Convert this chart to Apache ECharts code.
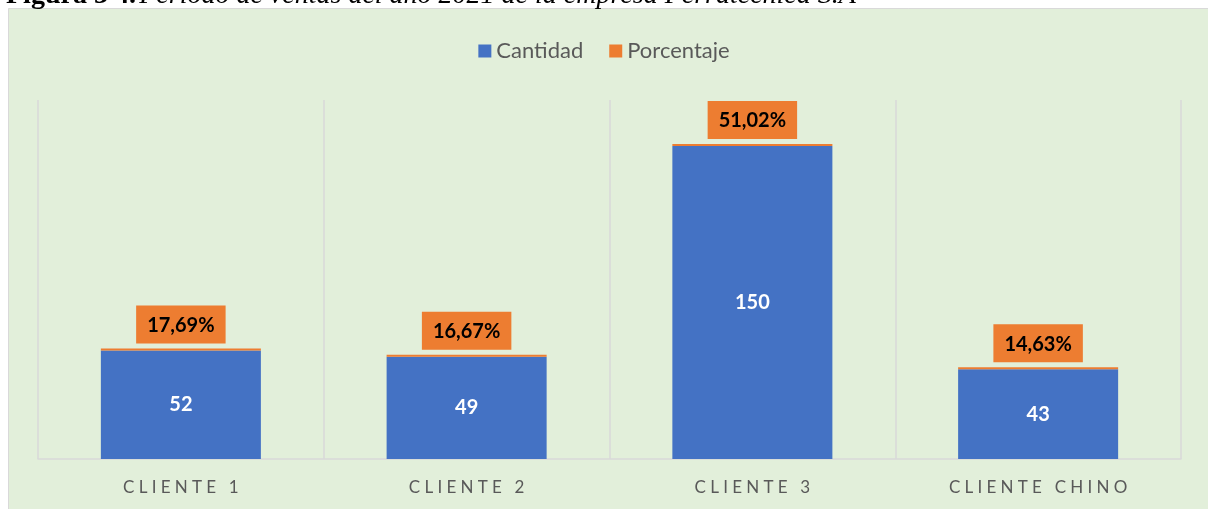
<!DOCTYPE html>
<html>
<head>
<meta charset="utf-8">
<script src="https://cdn.jsdelivr.net/npm/echarts@6/dist/echarts.min.js"></script>
<style>
  html, body { margin: 0; padding: 0; background: #ffffff; }
  #chart { width: 1208px; height: 509px; }
</style>
</head>
<body>
<div id="chart"></div>
<script>
// Sales per client, 2021
const categories = ['CLIENTE 1', 'CLIENTE 2', 'CLIENTE 3', 'CLIENTE CHINO'];
const cantidad = [52, 49, 150, 43];
const porcentaje = [0.1769, 0.1667, 0.5102, 0.1463];
const seriesNames = ['Cantidad', 'Porcentaje'];

const BLUE = '#4472C4';
const ORANGE = '#ED7D31';
const FONT = 'Lato, "Open Sans", sans-serif';

// spread the letters of the category labels
function spaced(s) {
  const gap = '\u2009\u2009';
  return s.split(' ').map(w => w.split('').join(gap)).join(gap + gap + gap);
}
function pct(v) {
  return (v * 100).toFixed(2).replace('.', ',') + '%';
}

const chart = echarts.init(document.getElementById('chart'), null, { renderer: 'canvas' });

chart.setOption({
  animation: false,
  backgroundColor: '#ffffff',
  graphic: [
    {
      type: 'rect', z: -10, silent: true,
      shape: { x: 8.5, y: 8.5, width: 1210, height: 510 },
      style: { fill: '#E2EFDA', stroke: '#D9D9D9', lineWidth: 1 }
    },
    {
      type: 'text', z: 10, silent: true,
      style: {
        x: 6, y: 10,
        verticalAlign: 'bottom',
        text: '{b|Figura 3 4.} {i|Periodo de ventas del año 2021 de la empresa Ferratécnica S.A}',
        rich: {
          b: { fontFamily: '"Liberation Serif", serif', fontWeight: 'bold', fontSize: 28, fill: '#000' },
          i: { fontFamily: '"Liberation Serif", serif', fontStyle: 'italic', fontSize: 28, fill: '#000' }
        }
      }
    }
  ],
  legend: {
    top: 35,
    left: 'center',
    itemWidth: 13,
    itemHeight: 13,
    itemGap: 26,
    icon: 'rect',
    data: seriesNames,
    textStyle: { fontFamily: FONT, fontSize: 22, color: '#595959' }
  },
  grid: { left: 38, right: 27, top: 100, bottom: 50 },
  xAxis: {
    type: 'category',
    data: categories,
    axisLine: { show: true, lineStyle: { color: '#D9D9D9', width: 1.5 } },
    axisTick: { show: false },
    splitLine: { show: true, lineStyle: { color: '#D9D9D9', width: 1.5 } },
    axisLabel: {
      margin: 20,
      fontFamily: FONT, fontSize: 17, color: '#595959',
      formatter: v => spaced(v)
    }
  },
  yAxis: {
    type: 'value',
    min: 0,
    max: 172,
    show: false,
    splitLine: { show: false }
  },
  series: [
    {
      name: seriesNames[0],
      type: 'bar',
      stack: 'total',
      barWidth: '56%',
      data: cantidad,
      itemStyle: { color: BLUE },
      label: {
        show: true,
        position: 'inside',
        fontFamily: FONT, fontSize: 20, fontWeight: 'bold', color: '#ffffff'
      }
    },
    {
      name: seriesNames[1],
      type: 'bar',
      stack: 'total',
      barWidth: '56%',
      barMinHeight: 2,
      data: porcentaje,
      itemStyle: { color: ORANGE },
      label: {
        show: true,
        position: 'top',
        distance: 5,
        formatter: p => pct(p.value),
        backgroundColor: ORANGE,
        padding: [10, 11, 8, 11],
        fontFamily: FONT, fontSize: 20, fontWeight: 'bold', color: '#000000'
      }
    }
  ]
});
</script>
</body>
</html>
